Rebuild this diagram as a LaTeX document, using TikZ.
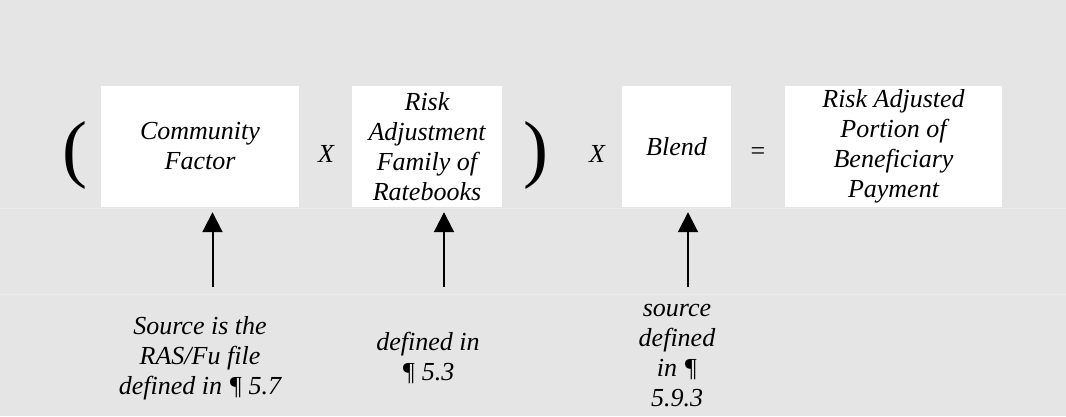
\documentclass[tikz,border=0pt]{standalone}
\usepackage{fontspec}
\setmainfont{Liberation Serif}
\usetikzlibrary{arrows.meta}
\definecolor{bgc}{HTML}{E5E5E5}
\definecolor{gridc}{HTML}{ECECEC}
\begin{document}
\begin{tikzpicture}[x=1pt,y=-1pt,
  box/.style={fill=white, inner sep=0pt, minimum height=121pt, align=center, font=\fontsize{26}{30}\selectfont\itshape},
  lbl/.style={inner sep=0pt, align=center, font=\fontsize{26}{30}\selectfont\itshape},
  op/.style={inner sep=0pt, font=\fontsize{26}{30}\selectfont},
  paren/.style={inner sep=0pt, font=\fontsize{75}{80}\selectfont},
  arr/.style={line width=2pt, -{Triangle[width=20pt,length=20pt]}, shorten >=5pt},
  faint/.style={draw=gridc, line width=1pt}]
\fill[bgc] (0,0) rectangle (1066,416);
\useasboundingbox (0,0) rectangle (1066,416);
\draw[faint] (0,208) -- (1066,208);
\draw[faint] (0,294) -- (1066,294);

\node[box, minimum width=198pt] (b1) at (200,146.5) {Community\\Factor};
\node[box, minimum width=150pt] (b2) at (427,146.5) {Risk\\Adjustment\\Family of\\Ratebooks};
\node[box, minimum width=109pt] (b3) at (676.5,146.5) {Blend};
\node[box, minimum width=217pt] (b4) at (893.5,146.5) {Risk Adjusted\\Portion of\\Beneficiary\\Payment};

\node[paren] (lp) at (74.5,155) {(};
\node[paren] (rp) at (535.5,155) {)};
\node[op, font=\fontsize{26}{30}\selectfont\itshape] (x1) at (326,154) {X};
\node[op, font=\fontsize{26}{30}\selectfont\itshape] (x2) at (597,154) {X};
\node[op] (eq) at (758,154) {=};

\node[lbl] (l1) at (200,358) {Source is the\\RAS/Fu file\\defined in ¶ 5.7};
\node[lbl] (l2) at (428,358) {defined in\\¶ 5.3};
\node[lbl] (l3) at (677,356) {source\\defined\\in ¶\\5.9.3};

\coordinate (a1) at (212.5,287);
\coordinate (a2) at (444,287);
\coordinate (a3) at (688,287);
\draw[arr] (a1) -- (a1 |- b1.south);
\draw[arr] (a2) -- (a2 |- b2.south);
\draw[arr] (a3) -- (a3 |- b3.south);
\end{tikzpicture}
\end{document}
